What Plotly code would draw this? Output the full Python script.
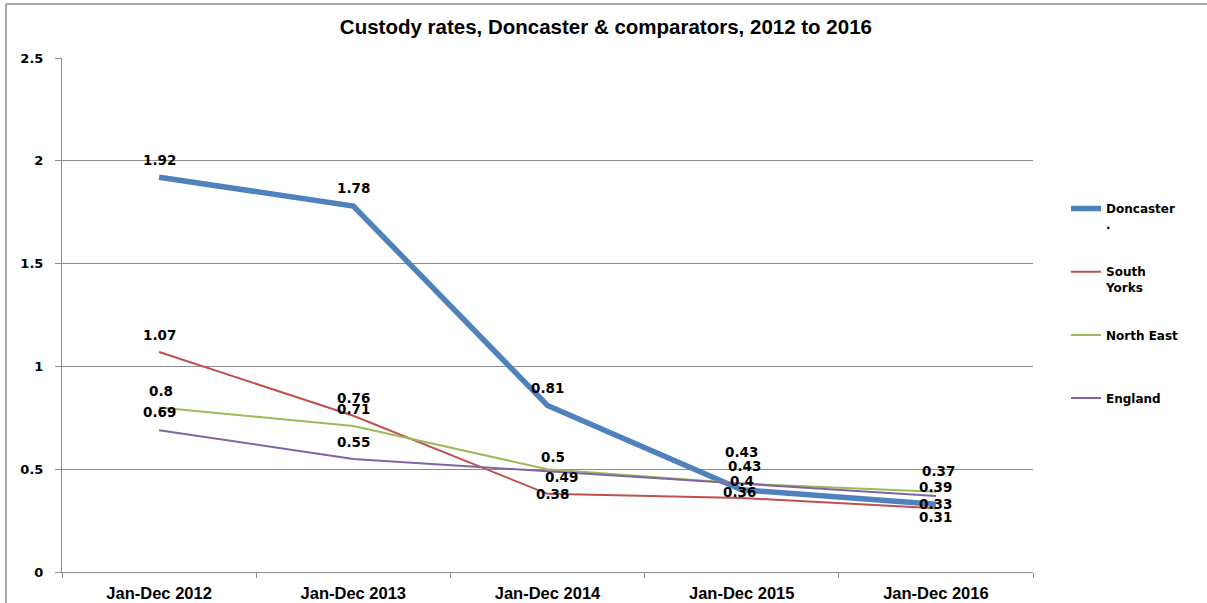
import plotly.graph_objects as go

categories = ["Jan-Dec 2012", "Jan-Dec 2013", "Jan-Dec 2014", "Jan-Dec 2015", "Jan-Dec 2016"]
series_names = ["Doncaster<br>.", "South<br>Yorks", "North East<br> ", "England<br> "]
doncaster = [1.92, 1.78, 0.81, 0.4, 0.33]
south_yorks = [1.07, 0.76, 0.38, 0.36, 0.31]
north_east = [0.8, 0.71, 0.5, 0.43, 0.39]
england = [0.69, 0.55, 0.49, 0.43, 0.37]
y_ticks = [0, 0.5, 1, 1.5, 2, 2.5]
y_tick_labels = ["0", "0.5", "1", "1.5", "2", "2.5"]

series_values = [doncaster, south_yorks, north_east, england]
colors = ["#4F81BD", "#C0504D", "#9BBB59", "#8064A2"]
widths = [5.5, 2, 2, 2]
# label pixel offsets (x, y) per series per category
label_shift = [
    [(0, 17), (0, 18), (0, 17), (0, 9), (0, 0)],
    [(0, 17), (0, 18), (5, 0), (-2, 6), (0, -9)],
    [(2, 17), (0, 17), (5, 12), (0, 32), (0, 5)],
    [(0, 18), (0, 17), (14, -6), (3, 18), (3, 25)],
]

fig = go.Figure()
for name, vals, c, w in zip(series_names, series_values, colors, widths):
    fig.add_trace(go.Scatter(x=categories, y=vals, mode="lines", name="<b>%s</b>" % name,
                             line=dict(color=c, width=w), legendgroup=name))

label_font = dict(family="DejaVu Sans", size=13.5, color="#000000")
for vals, shifts in zip(series_values, label_shift):
    for cat, v, (sx, sy) in zip(categories, vals, shifts):
        fig.add_annotation(x=cat, y=v, text="<b>%g</b>" % v, showarrow=False,
                           xshift=sx, yshift=sy, font=label_font)

grid_col = "#8C8C8C"
fig.update_layout(
    width=1207, height=603,
    margin=dict(l=62, r=174, t=58, b=31),
    paper_bgcolor="white", plot_bgcolor="white",
    title=dict(text="<b>Custody rates, Doncaster &amp; comparators, 2012 to 2016</b>",
               x=0.502, xref="container", xanchor="center", y=0.955, yanchor="middle",
               font=dict(family="Liberation Sans", size=20.5, color="#000")),
    showlegend=True,
    legend=dict(x=1.034, xanchor="left", y=0.735, yanchor="top",
                font=dict(family="DejaVu Sans", size=12, color="#000"),
                traceorder="grouped", tracegroupgap=29, valign="top",
                itemwidth=30, bgcolor="rgba(0,0,0,0)"),
    xaxis=dict(range=[-0.5, 4.5], showgrid=False, showline=True, linecolor=grid_col,
               ticks="outside", tickson="boundaries", ticklen=5, tickcolor=grid_col,
               tickfont=dict(family="Liberation Sans", size=16.5, color="#000"),
               tickprefix="<b>", ticksuffix="</b>", zeroline=False, ticklabelstandoff=6,
               automargin=False),
    yaxis=dict(range=[0, 2.5], tickvals=y_ticks, ticktext=["<b>%s</b>" % t for t in y_tick_labels],
               showgrid=True, gridcolor=grid_col, gridwidth=1, showline=True, linecolor=grid_col,
               ticks="outside", ticklen=6, tickcolor=grid_col, zeroline=False,
               tickfont=dict(family="DejaVu Sans", size=13, color="#000"), ticklabelstandoff=9,
               automargin=False),
)
# outer chart border (top and left edges)
fig.add_shape(type="line", xref="paper", yref="paper",
              x0=(6 - 62) / 971, x1=(1207 - 62) / 971, y0=(572 - 4) / 514, y1=(572 - 4) / 514,
              line=dict(color="#8C8C8C", width=1.5))
fig.add_shape(type="line", xref="paper", yref="paper",
              x0=(6 - 62) / 971, x1=(6 - 62) / 971, y0=(572 - 4) / 514, y1=(572 - 603) / 514,
              line=dict(color="#8C8C8C", width=1.5))

fig.write_html("out.html", config={"displayModeBar": False},
               post_script="document.body.style.margin='0';")
